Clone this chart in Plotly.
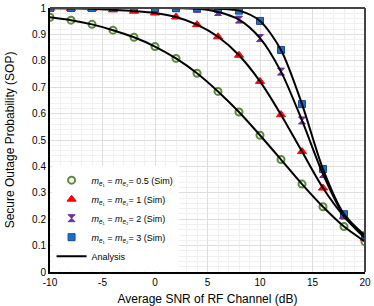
import plotly.graph_objects as go

snr_db = [-10, -8, -6, -4, -2, 0, 2, 4, 6, 8, 10, 12, 14, 16, 18, 20]
sop_m05 = [0.965, 0.954, 0.938, 0.916, 0.889, 0.854, 0.809, 0.753, 0.684, 0.606, 0.518, 0.426, 0.333, 0.247, 0.172, 0.115]
sop_m1 = [0.999, 0.998, 0.997, 0.993, 0.988, 0.981, 0.966, 0.937, 0.891, 0.821, 0.722, 0.596, 0.456, 0.318, 0.210, 0.128]
sop_m2 = [1.0, 1.0, 1.0, 1.0, 1.0, 1.0, 0.999, 0.997, 0.985, 0.956, 0.886, 0.759, 0.574, 0.371, 0.214, 0.137]
sop_m3 = [1.0, 1.0, 1.0, 1.0, 1.0, 1.0, 1.0, 0.999, 0.997, 0.990, 0.951, 0.841, 0.636, 0.390, 0.219, 0.138]

x_tickvals = [-10, -5, 0, 5, 10, 15, 20]
x_ticktext = ["-10", "-5", "0", "5", "10", "15", "20"]

labels = ["0.5", "1", "2", "3"]
series = [sop_m05, sop_m1, sop_m2, sop_m3]
symbols = ["circle-open", "triangle-up", "hourglass", "square"]
colors = ["#5b8c3a", "#ff0000", "#7030a0", "#1f6fc5"]
line_colors = ["#5b8c3a", "#ff0000", "#7030a0", "#0f4f96"]
sizes = [7, 8, 7, 7]


def leg_label(v):
    return ("<i>m</i><sub><i>e</i>₁</sub> = <i>m</i><sub><i>e</i>₂</sub>= "
            + v + " (Sim)")


fig = go.Figure()
for lab, ys, sym, col, lc, sz in zip(labels, series, symbols, colors, line_colors, sizes):
    fig.add_trace(go.Scatter(
        x=snr_db, y=ys, mode="markers", name=leg_label(lab),
        marker=dict(symbol=sym, size=sz, color=col,
                    line=dict(color=lc, width=2 if sym == "circle-open" else 1)),
    ))
for i, ys in enumerate(series):
    fig.add_trace(go.Scatter(
        x=snr_db, y=ys, mode="lines", name="Analysis",
        line=dict(color="black", width=2, shape="spline", smoothing=0.8),
        showlegend=(i == 0),
    ))

fig.update_layout(
    width=374, height=306, autosize=False,
    margin=dict(l=50, r=9, t=8, b=34, autoexpand=False),
    paper_bgcolor="white", plot_bgcolor="white",
    font=dict(family="Liberation Sans, Arial, sans-serif", size=10, color="black"),
    showlegend=True,
    legend=dict(x=0.005, y=0.005, xanchor="left", yanchor="bottom",
                bgcolor="white", borderwidth=0, font=dict(size=9),
                tracegroupgap=0, itemwidth=30),
    xaxis=dict(
        range=[-10, 20], tickmode="array", tickvals=x_tickvals, ticktext=x_ticktext,
        showgrid=True, gridcolor="#dedede", gridwidth=1,
        minor=dict(dtick=1, tick0=-10, showgrid=True, gridcolor="#f0f0f0"),
        showline=True, linecolor="black", linewidth=2, mirror=False,
        zeroline=False, ticks="", automargin=False,
        title=dict(text="Average SNR of RF Channel (dB)", font=dict(size=12)),
    ),
    yaxis=dict(
        range=[0, 1], tickmode="linear", tick0=0, dtick=0.1,
        showgrid=True, gridcolor="#dedede", gridwidth=1,
        minor=dict(dtick=0.02, showgrid=True, gridcolor="#f0f0f0"),
        showline=True, linecolor="black", linewidth=2, mirror=False,
        zeroline=False, ticks="", automargin=False,
        title=dict(text="Secure Outage Probability (SOP)", font=dict(size=12)),
    ),
    shapes=[
        dict(type="line", xref="paper", yref="paper", x0=0, x1=1, y0=1, y1=1,
             line=dict(color="#444444", width=2)),
        dict(type="line", xref="paper", yref="paper", x0=1, x1=1, y0=0, y1=1,
             line=dict(color="#444444", width=2)),
    ],
)

fig.write_html("out.html", include_plotlyjs=True, full_html=True,
               config={"displayModeBar": False},
               post_script="document.body.style.margin='0';document.body.style.overflow='hidden';")
